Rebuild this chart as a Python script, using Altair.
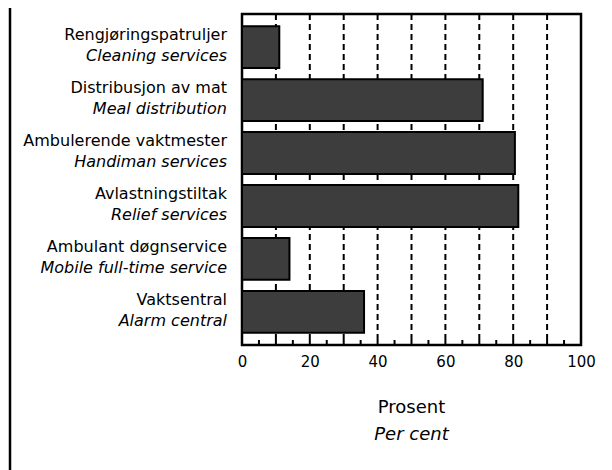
import altair as alt
import pandas as pd

# ---- data ----
labels_no = ["Rengjøringspatruljer", "Distribusjon av mat", "Ambulerende vaktmester",
             "Avlastningstiltak", "Ambulant døgnservice", "Vaktsentral"]
labels_en = ["Cleaning services", "Meal distribution", "Handiman services",
             "Relief services", "Mobile full-time service", "Alarm central"]
values = [11, 71, 80.5, 81.5, 14, 36]
grid_values = [10, 20, 30, 40, 50, 60, 70, 80, 90]
minor_ticks = [5, 10, 15, 20, 25, 30, 35, 40, 45, 50, 55, 60, 65, 70, 75, 80, 85, 90, 95]
tick_labels = [0, 20, 40, 60, 80, 100]
title_no = "Prosent"
title_en = "Per cent"

W, H = 339, 331
FONT = "DejaVu Sans"

df = pd.DataFrame({"no": labels_no, "en": labels_en, "value": values})
grid_df = pd.DataFrame({"g": grid_values})
tick_df = pd.DataFrame({"t": minor_ticks})
title_df = pd.DataFrame({"no": [title_no], "en": [title_en]})

xscale = alt.Scale(domain=[0, 100], nice=False)
xaxis = alt.Axis(values=tick_labels, title=None, grid=False, ticks=False,
                 domain=False, labelFont=FONT, labelFontSize=15, labelFlush=False,
                 labelColor="black", labelPadding=9, format="d")
yscale = alt.Scale(paddingInner=0.21, paddingOuter=0.23)
ysort = labels_no

grid = alt.Chart(grid_df).mark_rule(color="black", strokeWidth=2, strokeDash=[6, 4]).encode(
    x=alt.X("g:Q", scale=xscale, axis=xaxis)
)

ticks = alt.Chart(tick_df).mark_rule(color="black", strokeWidth=2).encode(
    x=alt.X("t:Q", scale=xscale, axis=xaxis),
    y=alt.value(H - 5),
    y2=alt.value(H),
)

bars = alt.Chart(df).mark_bar(fill="#3d3d3d", stroke="black", strokeWidth=2).encode(
    x=alt.X("value:Q", scale=xscale, axis=xaxis),
    y=alt.Y("no:N", sort=ysort, scale=yscale, axis=None),
)

lab_no = alt.Chart(df).mark_text(align="right", baseline="middle", dy=-12, font=FONT,
                                 fontSize=16, color="black").encode(
    y=alt.Y("no:N", sort=ysort, scale=yscale, axis=None),
    x=alt.value(-15),
    text="no:N",
)
lab_en = alt.Chart(df).mark_text(align="right", baseline="middle", dy=9, font=FONT,
                                 fontSize=16, fontStyle="italic", color="black").encode(
    y=alt.Y("no:N", sort=ysort, scale=yscale, axis=None),
    x=alt.value(-15),
    text="en:N",
)

t_no = alt.Chart(title_df).mark_text(align="center", baseline="middle", font=FONT,
                                     fontSize=18, color="black").encode(
    x=alt.value(W / 2), y=alt.value(H + 63), text="no:N")
t_en = alt.Chart(title_df).mark_text(align="center", baseline="middle", font=FONT,
                                     fontSize=18, fontStyle="italic", color="black").encode(
    x=alt.value(W / 2), y=alt.value(H + 90), text="en:N")

border = alt.Chart(title_df).mark_rule(color="black", strokeWidth=2.5).encode(
    x=alt.value(-232), y=alt.value(-6), y2=alt.value(H + 125))

chart = alt.layer(grid, bars, ticks, lab_no, lab_en, t_no, t_en, border).properties(
    width=W, height=H,
    autosize=alt.AutoSizeParams(type="none"),
    padding={"left": 234, "top": 6, "right": 20, "bottom": 125},
    background="white",
).configure_view(stroke="black", strokeWidth=2.5)

chart.save("out.html", embed_options={"renderer": "svg", "actions": False})
